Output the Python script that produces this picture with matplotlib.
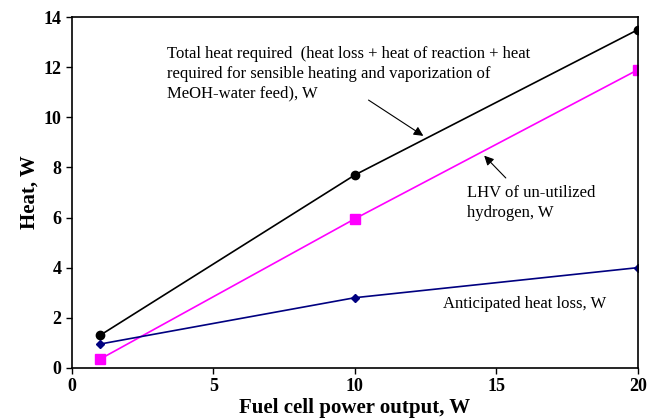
import matplotlib.pyplot as plt

# fuel cell power output, W
power = [1, 10, 20]
total_heat = [1.3, 7.7, 13.5]
lhv_h2 = [0.35, 5.95, 11.9]
heat_loss = [0.95, 2.8, 4.0]

plt.rcParams['font.family'] = ['Liberation Serif', 'DejaVu Serif']

fig = plt.figure(figsize=(6.47, 4.18), dpi=100)
ax = fig.add_axes([0.111, 0.120, 0.875, 0.839])

ax.plot(power, total_heat, color='black', lw=1.2, marker='o', ms=6)
ax.plot(power, lhv_h2, color='#ff00ff', lw=1.2, marker='s', ms=7.5)
ax.plot(power, heat_loss, color='#000080', lw=1.2, marker='D', ms=4.5)

ax.set_xlim(0, 20)
ax.set_ylim(0, 14)
ax.set_xticks([0, 5, 10, 15, 20])
ax.set_yticks(range(0, 15, 2))
ax.tick_params(direction='out', length=4, width=1, labelsize=13)
for lbl in ax.get_xticklabels() + ax.get_yticklabels():
    lbl.set_fontweight('bold')
for s in ax.spines.values():
    s.set_linewidth(1.2)

ax.set_xlabel('Fuel cell power output, W', fontsize=15, fontweight='bold', labelpad=2)
ax.set_ylabel('Heat, W', fontsize=15, fontweight='bold', labelpad=3)

ax.text(3.35, 12.85,
        'Total heat required  (heat loss + heat of reaction + heat\n'
        'required for sensible heating and vaporization of\n'
        'MeOH-water feed), W',
        fontsize=12, ha='left', va='top', linespacing=1.3)
ax.annotate('', xy=(12.5, 9.2), xytext=(10.4, 10.75),
            arrowprops=dict(arrowstyle='-|>', color='black', lw=0.8,
                            mutation_scale=14))
ax.annotate('', xy=(14.5, 8.55), xytext=(15.4, 7.5),
            arrowprops=dict(arrowstyle='-|>', color='black', lw=0.8,
                            mutation_scale=14))
ax.text(13.95, 7.3, 'LHV of un-utilized\nhydrogen, W', fontsize=12,
        ha='left', va='top', linespacing=1.3)
ax.text(13.1, 2.55, 'Anticipated heat loss, W', fontsize=12,
        ha='left', va='center')

fig.savefig('out.png', dpi=100)
